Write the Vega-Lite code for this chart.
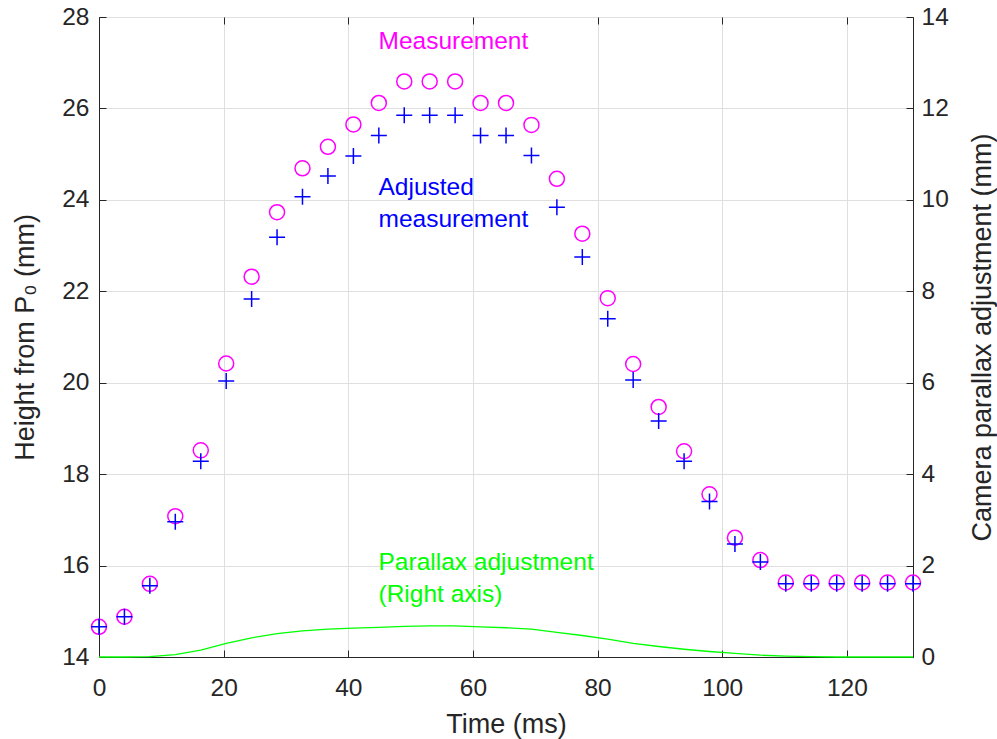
{
  "$schema": "https://vega.github.io/schema/vega-lite/v6.json",
  "width": 814,
  "height": 640,
  "autosize": "none",
  "padding": {"left": 99, "top": 17, "right": 84, "bottom": 82},
  "background": "white",
  "config": {
    "font": "Liberation Sans",
    "view": {"stroke": "#262626", "strokeWidth": 1},
    "axis": {
      "labelFontSize": 24.5,
      "titleFontSize": 27,
      "titleFontWeight": "normal",
      "labelColor": "#262626",
      "titleColor": "#262626",
      "domainColor": "#262626",
      "tickColor": "#262626",
      "gridColor": "#dfdfdf",
      "gridWidth": 1,
      "tickSize": -7,
      "labelFlush": false,
      "labelOverlap": false
    }
  },
  "datasets": {
    "main": [
      {"t": 0, "meas": 14.66, "adj": 14.66, "par": 0.0},
      {"t": 4.08, "meas": 14.88, "adj": 14.88, "par": 0.0},
      {"t": 8.16, "meas": 15.6, "adj": 15.56, "par": 0.01},
      {"t": 12.24, "meas": 17.08, "adj": 16.96, "par": 0.05},
      {"t": 16.33, "meas": 18.52, "adj": 18.28, "par": 0.15},
      {"t": 20.41, "meas": 20.42, "adj": 20.04, "par": 0.3},
      {"t": 24.49, "meas": 22.32, "adj": 21.83, "par": 0.42},
      {"t": 28.57, "meas": 23.73, "adj": 23.18, "par": 0.51},
      {"t": 32.65, "meas": 24.69, "adj": 24.07, "par": 0.57},
      {"t": 36.73, "meas": 25.16, "adj": 24.52, "par": 0.61},
      {"t": 40.82, "meas": 25.65, "adj": 24.96, "par": 0.63},
      {"t": 44.9, "meas": 26.12, "adj": 25.41, "par": 0.65},
      {"t": 48.98, "meas": 26.59, "adj": 25.85, "par": 0.67},
      {"t": 53.06, "meas": 26.59, "adj": 25.85, "par": 0.68},
      {"t": 57.14, "meas": 26.59, "adj": 25.85, "par": 0.68},
      {"t": 61.22, "meas": 26.12, "adj": 25.41, "par": 0.66},
      {"t": 65.31, "meas": 26.12, "adj": 25.41, "par": 0.64},
      {"t": 69.39, "meas": 25.64, "adj": 24.97, "par": 0.61},
      {"t": 73.47, "meas": 24.46, "adj": 23.84, "par": 0.54},
      {"t": 77.55, "meas": 23.26, "adj": 22.75, "par": 0.47},
      {"t": 81.63, "meas": 21.85, "adj": 21.4, "par": 0.39},
      {"t": 85.71, "meas": 20.41, "adj": 20.06, "par": 0.3},
      {"t": 89.8, "meas": 19.47, "adj": 19.16, "par": 0.23},
      {"t": 93.88, "meas": 18.5, "adj": 18.28, "par": 0.17},
      {"t": 97.96, "meas": 17.56, "adj": 17.4, "par": 0.12},
      {"t": 102.04, "meas": 16.61, "adj": 16.47, "par": 0.08},
      {"t": 106.12, "meas": 16.12, "adj": 16.08, "par": 0.04},
      {"t": 110.2, "meas": 15.63, "adj": 15.6, "par": 0.02},
      {"t": 114.29, "meas": 15.63, "adj": 15.6, "par": 0.01},
      {"t": 118.37, "meas": 15.63, "adj": 15.6, "par": 0.0},
      {"t": 122.45, "meas": 15.63, "adj": 15.6, "par": 0.0},
      {"t": 126.53, "meas": 15.63, "adj": 15.6, "par": 0.0},
      {"t": 130.61, "meas": 15.63, "adj": 15.6, "par": 0.0}
    ],
    "notes": [
      {"label": "Measurement", "series": "Measurement", "t": 44.85, "h": 27.3},
      {"label": "Adjusted", "series": "Adjusted", "t": 44.85, "h": 24.106},
      {"label": "measurement", "series": "Adjusted", "t": 44.85, "h": 23.406},
      {"label": "Parallax adjustment", "series": "Parallax", "t": 44.85, "h": 15.9},
      {"label": "(Right axis)", "series": "Parallax", "t": 44.85, "h": 15.2}
    ]
  },
  "layer": [
    {
      "data": {"name": "main"},
      "mark": {"type": "line", "color": "#00ff00", "strokeWidth": 1.3},
      "encoding": {
        "x": {
          "field": "t", "type": "quantitative",
          "scale": {"domain": [0, 130.61], "nice": false, "zero": false},
          "axis": {
            "orient": "bottom",
            "values": [0, 20, 40, 60, 80, 100, 120],
            "grid": true,
            "title": "Time (ms)",
            "labelPadding": 26,
            "titleY": 75,
            "titleBaseline": "alphabetic"
          }
        },
        "y": {
          "field": "par", "type": "quantitative",
          "scale": {"domain": [0, 14], "nice": false, "zero": false},
          "axis": {
            "orient": "right",
            "values": [0, 2, 4, 6, 8, 10, 12, 14],
            "grid": false,
            "title": "Camera parallax adjustment (mm)",
            "titleAngle": -90,
            "titleX": 77,
            "titleBaseline": "alphabetic",
            "labelPadding": 15
          }
        }
      }
    },
    {
      "data": {"name": "main"},
      "mark": {"type": "point", "shape": "circle", "filled": false, "color": "#ff00ff", "strokeWidth": 1.5, "size": 225, "opacity": 1},
      "encoding": {
        "x": {
          "field": "t", "type": "quantitative",
          "scale": {"domain": [0, 130.61], "nice": false, "zero": false},
          "axis": {
            "orient": "top",
            "values": [0, 20, 40, 60, 80, 100, 120],
            "labels": false,
            "domain": false,
            "grid": false,
            "title": null
          }
        },
        "y": {
          "field": "meas", "type": "quantitative",
          "scale": {"domain": [14, 28], "nice": false, "zero": false},
          "axis": {
            "orient": "left",
            "values": [14, 16, 18, 20, 22, 24, 26, 28],
            "grid": true,
            "title": "Height from P₀ (mm)",
            "titleX": -66,
            "titleBaseline": "alphabetic",
            "labelPadding": 17
          }
        }
      }
    },
    {
      "data": {"name": "main"},
      "mark": {"type": "point", "shape": "M-1,0L1,0M0,-1L0,1", "filled": false, "color": "#0000ff", "strokeWidth": 1.5, "size": 256, "opacity": 1},
      "encoding": {
        "x": {"field": "t", "type": "quantitative", "axis": null},
        "y": {"field": "adj", "type": "quantitative", "scale": {"domain": [14, 28], "nice": false, "zero": false}, "axis": null}
      }
    },
    {
      "data": {"name": "notes"},
      "mark": {"type": "text", "align": "left", "baseline": "alphabetic", "fontSize": 24.5},
      "encoding": {
        "x": {"field": "t", "type": "quantitative", "axis": null},
        "y": {"field": "h", "type": "quantitative", "scale": {"domain": [14, 28], "nice": false, "zero": false}, "axis": null},
        "text": {"field": "label"},
        "color": {
          "field": "series", "type": "nominal",
          "scale": {"domain": ["Measurement", "Adjusted", "Parallax"], "range": ["#ff00ff", "#0000ff", "#00ff00"]},
          "legend": null
        }
      }
    }
  ],
  "resolve": {"scale": {"y": "independent"}, "axis": {"x": "independent"}}
}
